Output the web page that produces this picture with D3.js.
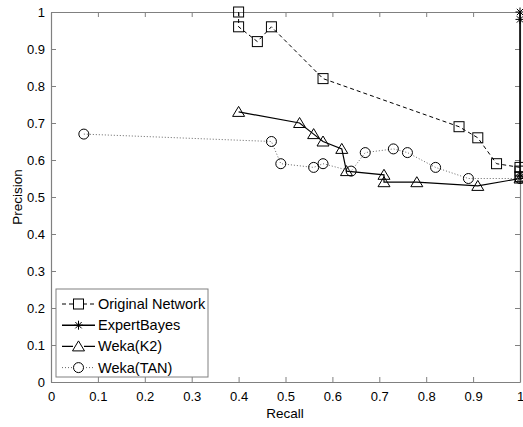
<!DOCTYPE html>
<html>
<head>
<meta charset="utf-8">
<script src="https://cdn.jsdelivr.net/npm/d3@7"></script>
<style>
body { margin: 0; background: #fff; }
text { font-family: "Liberation Sans", Arial, sans-serif; }
</style>
</head>
<body>
<svg id="chart" width="523" height="427"></svg>
<script>
const svgEl = document.getElementById('chart')
const width = +svgEl.getAttribute('width')
const height = +svgEl.getAttribute('height')
const svg = d3.select('#chart')
const axisColor = '#808080'

// data
const xTicks = [0, 0.1, 0.2, 0.3, 0.4, 0.5, 0.6, 0.7, 0.8, 0.9, 1]
const yTicks = [0, 0.1, 0.2, 0.3, 0.4, 0.5, 0.6, 0.7, 0.8, 0.9, 1]

const origRecall = [0.40, 0.40, 0.44, 0.47, 0.58, 0.87, 0.91, 0.95, 1.0, 1.0, 1.0]
const origPrec = [1.00, 0.96, 0.92, 0.96, 0.82, 0.69, 0.66, 0.59, 0.58, 0.57, 0.555]

const ebRecall = [1.0, 1.0, 1.0]
const ebPrec = [1.00, 0.98, 0.55]

const k2Recall = [0.40, 0.53, 0.56, 0.58, 0.62, 0.63, 0.71, 0.71, 0.78, 0.91, 1.0]
const k2Prec = [0.73, 0.70, 0.67, 0.65, 0.63, 0.57, 0.56, 0.54, 0.54, 0.53, 0.55]

const tanRecall = [0.07, 0.47, 0.49, 0.56, 0.58, 0.64, 0.67, 0.73, 0.76, 0.82, 0.89, 1.0]
const tanPrec = [0.67, 0.65, 0.59, 0.58, 0.59, 0.57, 0.62, 0.63, 0.62, 0.58, 0.55, 0.55]

const series = [
	{ name: 'Original Network', x: origRecall, y: origPrec, marker: 'square', dash: '4,3', width: 1, color: '#000' },
	{ name: 'ExpertBayes', x: ebRecall, y: ebPrec, marker: 'star', dash: null, width: 1.6, color: '#000' },
	{ name: 'Weka(K2)', x: k2Recall, y: k2Prec, marker: 'triangle', dash: null, width: 1.2, color: '#000' },
	{ name: 'Weka(TAN)', x: tanRecall, y: tanPrec, marker: 'circle', dash: '1,2', width: 1, color: '#666' }
]

const padLeft = 51, padRight = 520, padTop = 12, padBottom = 382

const xScale = d3.scaleLinear().domain([0, 1]).range([padLeft, padRight])
const yScale = d3.scaleLinear().domain([0, 1]).range([padBottom, padTop])

// box axes
const fmt = d => d === 0 || d === 1 ? d3.format('d')(d) : d3.format('.1f')(d)

svg.append('g')
	.attr('transform', `translate(0, ${padBottom})`)
	.call(d3.axisBottom(xScale).tickValues(xTicks).tickFormat(fmt).tickSizeInner(-5).tickSizeOuter(0).tickPadding(10))
svg.append('g')
	.attr('transform', `translate(${padLeft}, 0)`)
	.call(d3.axisLeft(yScale).tickValues(yTicks).tickFormat(fmt).tickSizeInner(-5).tickSizeOuter(0).tickPadding(6))
svg.append('g')
	.attr('transform', `translate(0, ${padTop})`)
	.call(d3.axisTop(xScale).tickValues(xTicks).tickFormat('').tickSizeInner(-5).tickSizeOuter(0))
svg.append('g')
	.attr('transform', `translate(${padRight}, 0)`)
	.call(d3.axisRight(yScale).tickValues(yTicks).tickFormat('').tickSizeInner(-5).tickSizeOuter(0))

svg.selectAll('.domain').style('stroke', axisColor).style('stroke-width', 1.2)
svg.selectAll('.tick line').style('stroke', axisColor)
svg.selectAll('.tick text')
	.style('font-size', '13px')
	.style('fill', '#000')
	.style('font-family', '"Liberation Sans", Arial, sans-serif')

svg.append('text')
	.attr('x', 285)
	.attr('y', 418)
	.attr('text-anchor', 'middle')
	.attr('font-size', '13.5px')
	.text('Recall')

svg.append('text')
	.attr('transform', `translate(22, 197) rotate(-90)`)
	.attr('text-anchor', 'middle')
	.attr('font-size', '13.5px')
	.text('Precision')

// markers
function drawMarker(g, type, cx, cy) {
	if (type === 'square') {
		g.append('rect').attr('x', cx - 5).attr('y', cy - 5).attr('width', 10).attr('height', 10)
			.attr('fill', 'none').attr('stroke', '#000').attr('stroke-width', 1)
	} else if (type === 'circle') {
		g.append('circle').attr('cx', cx).attr('cy', cy).attr('r', 5)
			.attr('fill', 'none').attr('stroke', '#000').attr('stroke-width', 1)
	} else if (type === 'triangle') {
		g.append('path').attr('d', `M${cx} ${cy - 5.5} L${cx + 6} ${cy + 4.5} L${cx - 6} ${cy + 4.5} Z`)
			.attr('fill', 'none').attr('stroke', '#000').attr('stroke-width', 1)
	} else if (type === 'star') {
		const r = 4.5
		let d = ''
		for (let a = 0; a < 180; a += 45) {
			const rad = a * Math.PI / 180
			d += `M${cx - r * Math.cos(rad)} ${cy - r * Math.sin(rad)} L${cx + r * Math.cos(rad)} ${cy + r * Math.sin(rad)} `
		}
		g.append('path').attr('d', d).attr('stroke', '#000').attr('stroke-width', 1)
	}
}

const line = d3.line().x(d => xScale(d[0])).y(d => yScale(d[1]))

series.forEach(s => {
	const pts = s.x.map((v, i) => [v, s.y[i]])
	const g = svg.append('g')
	g.append('path')
		.attr('d', line(pts))
		.attr('fill', 'none')
		.attr('stroke', s.color)
		.attr('stroke-width', s.width)
		.attr('stroke-dasharray', s.dash)
	pts.forEach(p => drawMarker(g, s.marker, xScale(p[0]), yScale(p[1])))
})

// legend
const legend = svg.append('g')
legend.append('rect')
	.attr('x', 56).attr('y', 289).attr('width', 152).attr('height', 88)
	.attr('fill', '#fff').attr('stroke', axisColor).attr('stroke-width', 1)

series.forEach((s, i) => {
	const cy = 304 + i * 21.2
	legend.append('line')
		.attr('x1', 62).attr('x2', 95).attr('y1', cy).attr('y2', cy)
		.attr('stroke', s.color).attr('stroke-width', s.width)
		.attr('stroke-dasharray', s.dash)
	const mg = legend.append('g')
	if (s.marker !== 'star') mg.append('rect').attr('x', 73).attr('y', cy - 5).attr('width', 11).attr('height', 10).attr('fill', '#fff')
	drawMarker(mg, s.marker, 78.5, cy)
	legend.append('text')
		.attr('x', 98).attr('y', cy + 5)
		.attr('font-size', '14.5px')
		.text(s.name)
})
</script>
</body>
</html>
